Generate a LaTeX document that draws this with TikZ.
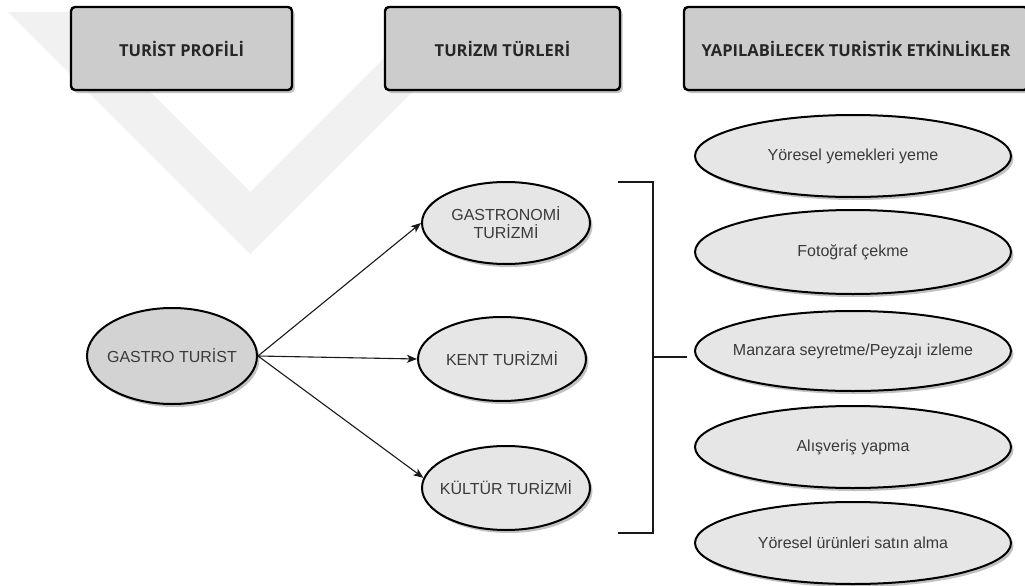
\documentclass[tikz,border=0pt]{standalone}
\usepackage{fontspec}
\setmainfont{Liberation Sans}
\newfontfamily\hdrfont{Open Sans}
\usetikzlibrary{shapes.geometric,shadows,arrows.meta}
\definecolor{hdrfill}{HTML}{CCCCCC}
\definecolor{gtfill}{HTML}{D3D3D3}
\definecolor{elfill}{HTML}{E6E6E6}
\definecolor{txt}{HTML}{3A3A3A}
\definecolor{hdrtxt}{HTML}{262626}
\definecolor{shadowc}{HTML}{9A9A9A}
\definecolor{wm}{HTML}{F1F1F1}
\newcommand\zw[1]{\makebox[0pt]{#1}}
\tikzset{
  shade3/.style={drop shadow={shadow xshift=2.5pt,shadow yshift=-3pt,fill=shadowc,opacity=0.6}},
  hdrbox/.style={rectangle,rounded corners=4pt,draw=black,line width=2.4pt,fill=hdrfill,
    minimum height=83pt,inner sep=0pt,shade3,
    font=\hdrfont\bfseries\fontsize{16.5}{19}\selectfont,text=hdrtxt},
  oval/.style={ellipse,draw=black,line width=2pt,fill=elfill,inner sep=0pt,shade3,
    font=\fontsize{16}{18}\selectfont,text=txt,align=center},
  arr/.style={line width=1.1pt,draw=black!90,-{Stealth[length=10pt,width=8pt,inset=2.5pt]}},
  brk/.style={line width=2.6pt,draw=black!90},
  wmband/.style={fill=wm,draw=none}
}
\begin{document}
\begin{tikzpicture}[x=1pt,y=-1pt]
\useasboundingbox (0,0) rectangle (1025,586);
\clip (0,0) rectangle (1025,586);
\fill[white] (0,0) rectangle (1025,586);

% faint watermark (approximate)
\fill[wmband] (8,12) -- (70,12) -- (250,192) -- (430,12) -- (492,12) -- (250,254) -- cycle;

% header boxes
\node[hdrbox,minimum width=221pt] (h1) at (181.5,48.5) {TURİST PROFİLİ};
\node[hdrbox,minimum width=235pt] (h2) at (502.5,48.5) {TURİZM TÜRLERİ};
\node[hdrbox,minimum width=344pt] (h3) at (856,48.5) {YAPILABİLECEK TURİSTİK ETKİNLİKLER};

% left ellipses
\node[oval,fill=gtfill,minimum width=170pt,minimum height=96pt] (gt) at (172,356) {\zw{GASTRO TURİST}};
\node[oval,minimum width=168pt,minimum height=82pt] (gas) at (506,223) {\zw{GASTRONOMİ}\\\zw{TURİZMİ}};
\node[oval,minimum width=168pt,minimum height=84pt] (kent) at (502,359) {\zw{KENT TURİZMİ}};
\node[oval,minimum width=168pt,minimum height=84pt] (kul) at (506,488) {\zw{KÜLTÜR TURİZMİ}};

% right ellipses
\node[oval,minimum width=316pt,minimum height=82pt] (a1) at (853,156) {\zw{Yöresel yemekleri yeme}};
\node[oval,minimum width=316pt,minimum height=84pt] (a2) at (853,252) {\zw{Fotoğraf çekme}};
\node[oval,minimum width=316pt,minimum height=80pt] (a3) at (853,351) {\zw{Manzara seyretme/Peyzajı izleme}};
\node[oval,minimum width=316pt,minimum height=82pt] (a4) at (853,447) {\zw{Alışveriş yapma}};
\node[oval,minimum width=316pt,minimum height=82pt] (a5) at (853,543) {\zw{Yöresel ürünleri satın alma}};

% arrows
\draw[arr] (gt.east) -- (gas.west);
\draw[arr] (gt.east) -- (kent.west);
\draw[arr] (gt.east) -- (kul.173);

% bracket
\coordinate (bt) at (618,182);
\coordinate (bb) at (618,533);
\coordinate (bm) at (653,357);
\coordinate (be) at (687,357);
\draw[brk] (bt) -| (bm) |- (bb);
\draw[brk] (bm) -- (be);
\end{tikzpicture}
\end{document}
